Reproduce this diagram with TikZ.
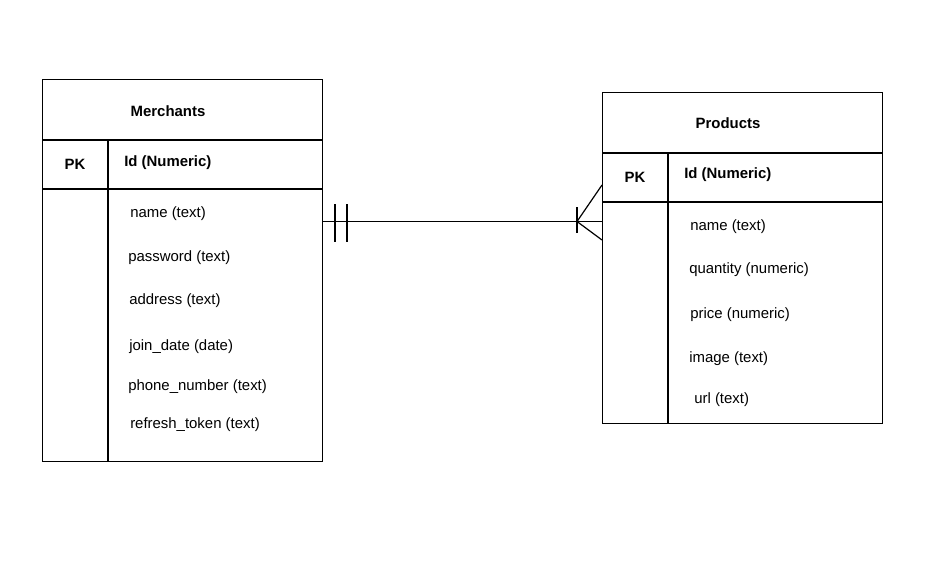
\documentclass[tikz,border=0pt]{standalone}
\usepackage{fontspec}
\setmainfont{Liberation Sans}
\begin{document}
\begin{tikzpicture}[x=0.75pt,y=-0.75pt,
  tbl/.style={draw,line width=0.9pt,minimum width=210pt,anchor=north west,inner sep=0pt},
  ln/.style={line width=0.9pt},
  ttl/.style={font=\fontsize{11.2}{13}\selectfont\bfseries},
  fld/.style={font=\fontsize{11.2}{13}\selectfont,anchor=west,inner sep=0pt}]
\useasboundingbox[fill=white] (0,0) rectangle (948,571);
% Merchants
\node[tbl,minimum height=286.5pt] (m) at (42,79) {};
\coordinate (mh1) at (42,140); \coordinate (mh2) at (322,140);
\coordinate (mp1) at (42,189); \coordinate (mp2) at (322,189);
\coordinate (md1) at (108,140); \coordinate (md2) at (108,461);
\draw[ln] (mh1) -- (mh2);
\draw[ln] (mp1) -- (mp2);
\draw[ln] (md1) -- (md2);
\node[ttl] (mt) at (168,111) {Merchants};
\node[ttl] (mpk) at (75,164) {PK};
\node[ttl,anchor=west,inner sep=0pt] (mid) at (124,162.5) {Id (Numeric)};
\node[fld] (f1) at (130,214) {name (text)};
\node[fld] (f2) at (128,258) {password (text)};
\node[fld] (f3) at (129,301) {address (text)};
\node[fld] (f4) at (129,347) {join\_date (date)};
\node[fld] (f5) at (128,387) {phone\_number (text)};
\node[fld] (f6) at (130,425) {refresh\_token (text)};
% Products
\node[tbl,minimum height=248.25pt] (p) at (602,92) {};
\coordinate (ph1) at (602,153); \coordinate (ph2) at (882,153);
\coordinate (pp1) at (602,202); \coordinate (pp2) at (882,202);
\coordinate (pd1) at (668,153); \coordinate (pd2) at (668,423);
\draw[ln] (ph1) -- (ph2);
\draw[ln] (pp1) -- (pp2);
\draw[ln] (pd1) -- (pd2);
\node[ttl] (pt) at (728,123) {Products};
\node[ttl] (ppk) at (635,177) {PK};
\node[ttl,anchor=west,inner sep=0pt] (pid) at (684,174.5) {Id (Numeric)};
\node[fld] (g1) at (690,227) {name (text)};
\node[fld] (g2) at (689,270) {quantity (numeric)};
\node[fld] (g3) at (690,315) {price (numeric)};
\node[fld] (g4) at (689,359) {image (text)};
\node[fld] (g5) at (694,400) {url (text)};
% connector
\coordinate (ca) at (322,221.5);
\coordinate (cb) at (602,221.5);
\coordinate (cf) at (577,221.5);
\coordinate (cu) at (602,185);
\coordinate (cl) at (602,240);
\draw[ln] (ca) -- (cb);
\draw[ln] (335,204) -- (335,242);
\draw[ln] (347,204) -- (347,242);
\draw[ln] (cu) -- (cf) -- (cl);
\draw[ln] (577,207) -- (577,233);
\end{tikzpicture}
\end{document}
